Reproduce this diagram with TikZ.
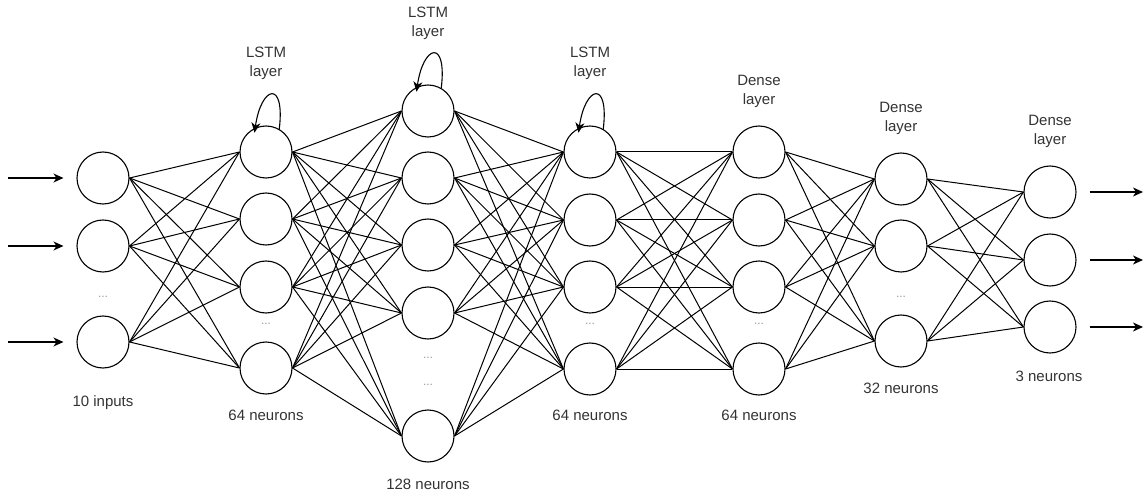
\documentclass[tikz,border=0pt]{standalone}
\usepackage{fontspec}
\setmainfont{Liberation Sans}
\usetikzlibrary{arrows.meta}
\definecolor{txt}{HTML}{333333}
\definecolor{dotc}{HTML}{9A9A9A}
\begin{document}
\begin{tikzpicture}[x=1pt,y=-1pt,
 neuron/.style={circle,draw,line width=1.1pt,minimum size=52pt,inner sep=0pt},
 conn/.style={line width=1pt},
 lbl/.style={text=txt,font=\fontsize{15}{19}\selectfont,align=center,inner sep=0pt},
 dotlbl/.style={text=dotc,font=\fontsize{12}{14}\selectfont,inner sep=0pt},
 arr/.style={line width=1.1pt,-{Stealth[length=10pt,width=9pt,inset=3pt]}},
 selfloop/.style={line width=1.1pt,-{Stealth[length=10pt,width=9pt,inset=3pt]},shorten >=-5pt}
]
\useasboundingbox (0,0) rectangle (1146,497);

% input layer
\foreach \n/\y in {1/178,2/246,3/342} \node[neuron] (i\n) at (103,\y) {};
% LSTM 1
\foreach \n/\y in {1/152,2/219,3/287,4/368} \node[neuron] (a\n) at (266,\y) {};
% LSTM 2
\foreach \n/\y in {1/111,2/178,3/245,4/313,5/436} \node[neuron] (b\n) at (428,\y) {};
% LSTM 3
\foreach \n/\y in {1/152,2/220,3/287,4/369} \node[neuron] (c\n) at (590,\y) {};
% Dense 1
\foreach \n/\y in {1/152,2/220,3/287,4/369} \node[neuron] (d\n) at (759,\y) {};
% Dense 2
\foreach \n/\y in {1/179,2/246,3/341} \node[neuron] (e\n) at (901,\y) {};
% Dense 3
\foreach \n/\y in {1/192,2/260,3/327} \node[neuron] (f\n) at (1050,\y) {};

% connections
\foreach \s in {1,2,3} \foreach \t in {1,...,4} \draw[conn] (i\s.east) -- (a\t.west);
\foreach \s in {1,...,4} \foreach \t in {1,...,5} \draw[conn] (a\s.east) -- (b\t.west);
\foreach \s in {1,...,5} \foreach \t in {1,...,4} \draw[conn] (b\s.east) -- (c\t.west);
\foreach \s in {1,...,4} \foreach \t in {1,...,4} \draw[conn] (c\s.east) -- (d\t.west);
\foreach \s in {1,...,4} \foreach \t in {1,2,3} \draw[conn] (d\s.east) -- (e\t.west);
\foreach \s in {1,2,3} \foreach \t in {1,2,3} \draw[conn] (e\s.east) -- (f\t.west);

% self loops
\foreach \m in {a1,b1,c1}
  \draw[selfloop] (\m.60) .. controls +(6,-50) and +(6,-42) .. (\m.114);

% input / output arrows
\foreach \n/\y in {1/178,2/246,3/342} {
  \coordinate (si\n) at (8,\y);
  \draw[arr,shorten >=13pt] (si\n) -- (i\n);
}
\foreach \n/\y in {1/192,2/260,3/327} {
  \coordinate (so\n) at (1143,\y);
  \draw[arr,shorten <=13pt] (f\n) -- (so\n);
}

% dots
\node[dotlbl] (dI) at (103,297) {...};
\node[dotlbl] (dA) at (266,324) {...};
\node[dotlbl] (dB1) at (428,358) {...};
\node[dotlbl] (dB2) at (428,385) {...};
\node[dotlbl] (dC) at (590,324) {...};
\node[dotlbl] (dD) at (759,324) {...};
\node[dotlbl] (dE) at (901,297) {...};

% layer labels
\node[lbl] (tA) at (266,63.5) {LSTM\\layer};
\node[lbl] (tB) at (428,23.5) {LSTM\\layer};
\node[lbl] (tC) at (590,63.5) {LSTM\\layer};
\node[lbl] (tD) at (759,91) {Dense\\layer};
\node[lbl] (tE) at (901,118) {Dense\\layer};
\node[lbl] (tF) at (1050,131.5) {Dense\\layer};

% count labels
\node[lbl] (cI) at (103,403) {10 inputs};
\node[lbl] (cA) at (266,415) {64 neurons};
\node[lbl] (cB) at (428,484) {128 neurons};
\node[lbl] (cC) at (590,415) {64 neurons};
\node[lbl] (cD) at (759,415) {64 neurons};
\node[lbl] (cE) at (901,388) {32 neurons};
\node[lbl] (cF) at (1049,376) {3 neurons};
\end{tikzpicture}
\end{document}
